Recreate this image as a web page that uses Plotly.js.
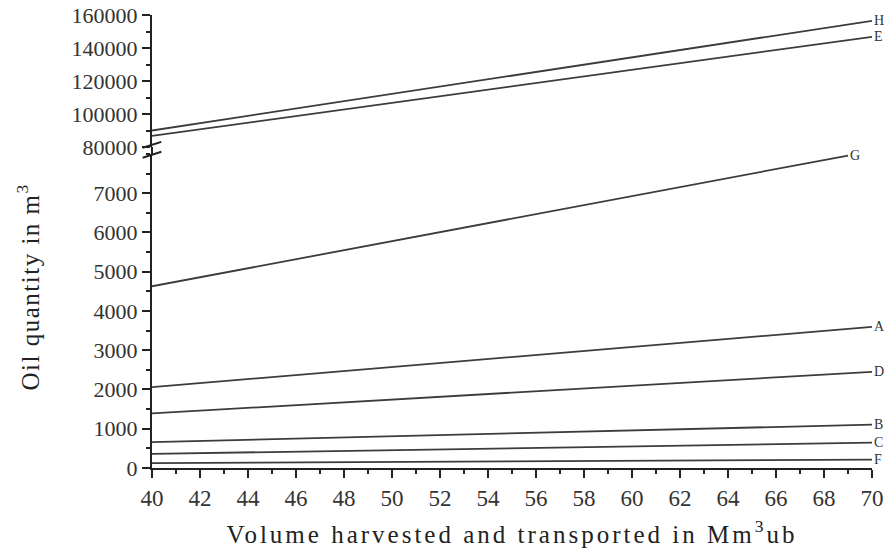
<!DOCTYPE html>
<html>
<head>
<meta charset="utf-8">
<script src="https://cdn.plot.ly/plotly-3.0.1.min.js"></script>
<style>html,body{margin:0;padding:0;background:#fff;}#chart{width:887px;height:548px;}</style>
</head>
<body>
<div id="chart"></div>
<script>
// Series (start and end of each straight line)
const seriesNames = ["H", "E", "G", "A", "D", "B", "C", "F"];
const xH = [40, 70], yH = [90000, 156500];
const xE = [40, 70], yE = [86700, 146800];
const xG = [40, 69], yG = [4630, 7960];
const xA = [40, 70], yA = [2060, 3595];
const xD = [40, 70], yD = [1390, 2450];
const xB = [40, 70], yB = [660, 1105];
const xC = [40, 70], yC = [360, 645];
const xF = [40, 70], yF = [125, 215];

const xTickVals = [40, 42, 44, 46, 48, 50, 52, 54, 56, 58, 60, 62, 64, 66, 68, 70];
const upperTickVals = [80000, 100000, 120000, 140000, 160000];
const upperTickText = ["80000", "100000", "120000", "140000", "160000"];
const lowerTickVals = [0, 1000, 2000, 3000, 4000, 5000, 6000, 7000];
const lowerTickText = ["0", "1000", "2000", "3000", "4000", "5000", "6000", "7000"];

const upperSeries = [["H", xH, yH], ["E", xE, yE]];
const lowerSeries = [["G", xG, yG], ["A", xA, yA], ["D", xD, yD], ["B", xB, yB], ["C", xC, yC], ["F", xF, yF]];

const fontFam = "Liberation Serif, Times New Roman, serif";
const lineStyle = {color: "#3c3c3c", width: 1.8};
const labelFont = {family: fontFam, size: 14, color: "#333"};
const traces = [];
const annotations = [];
function addSeries(list, yaxis) {
  list.forEach(([n, x, y]) => {
    traces.push({x: x, y: y, name: n, mode: "lines", line: lineStyle, xaxis: "x", yaxis: yaxis, hoverinfo: "skip"});
    annotations.push({x: x[x.length-1], y: y[y.length-1], xref: "x", yref: yaxis, text: n, showarrow: false, xanchor: "left", xshift: 0, font: labelFont});
  });
}
addSeries(upperSeries, "y2");
addSeries(lowerSeries, "y");

const axisLine = {showline: true, linecolor: "#222", linewidth: 2, ticks: "outside", ticklen: 8, tickwidth: 2, tickcolor: "#222", showgrid: false, zeroline: false, tickfont: {family: fontFam, size: 22, color: "#333"}};

const layout = {
  width: 887, height: 548,
  margin: {l: 152, r: 15, t: 15, b: 80},
  paper_bgcolor: "#fff", plot_bgcolor: "#fff",
  showlegend: false,
  xaxis: Object.assign({}, axisLine, {
    range: [40, 70], tickvals: xTickVals, ticklen: 8,
    tickfont: {family: fontFam, size: 23, color: "#333"},
    minor: {dtick: 1, ticklen: 4, tickwidth: 2, tickcolor: "#222", ticks: "outside"},
    anchor: "y",
    title: {text: "Volume harvested and transported in Mm<sup>3</sup>ub", font: {family: fontFam, size: 25, color: "#222"}, standoff: 16}
  }),
  yaxis: Object.assign({}, axisLine, {
    domain: [0, 0.6932], range: [0, 8000], tickvals: lowerTickVals, ticktext: lowerTickText,
    minor: {dtick: 500, ticklen: 4, tickwidth: 2, tickcolor: "#222", ticks: "outside"},
    anchor: "x"
  }),
  yaxis2: Object.assign({}, axisLine, {
    domain: [0.7086, 1], range: [80000, 160000], tickvals: upperTickVals, ticktext: upperTickText,
    minor: {dtick: 10000, ticklen: 4, tickwidth: 2, tickcolor: "#222", ticks: "outside"},
    anchor: "x"
  }),
  annotations: annotations.concat([
    {xref: "paper", yref: "paper", x: -0.172, y: 0.40, text: "Oil quantity in m<sup>3</sup>", textangle: -90, showarrow: false, font: {family: fontFam, size: 25, color: "#222"}, xanchor: "center", yanchor: "middle"}
  ]),
  shapes: [
    {type: "line", xref: "paper", yref: "paper", x0: 0, x1: 0, y0: 0.6932, y1: 0.7086, line: {color: "#222", width: 2}},
    {type: "line", xref: "paper", yref: "paper", x0: -0.013, x1: 0.013, y0: 0.707, y1: 0.720, line: {color: "#222", width: 2}},
    {type: "line", xref: "paper", yref: "paper", x0: -0.013, x1: 0.013, y0: 0.685, y1: 0.698, line: {color: "#222", width: 2}}
  ]
};

Plotly.newPlot("chart", traces, layout, {staticPlot: true, displayModeBar: false}).then(gd => {
  const xt = gd.querySelector(".xtitle");
  if (xt) xt.style.letterSpacing = "3px";
  gd.querySelectorAll(".annotation-text").forEach(t => {
    if (t.textContent.indexOf("Oil") === 0) t.style.letterSpacing = "1.5px";
  });
});
</script>
</body>
</html>
